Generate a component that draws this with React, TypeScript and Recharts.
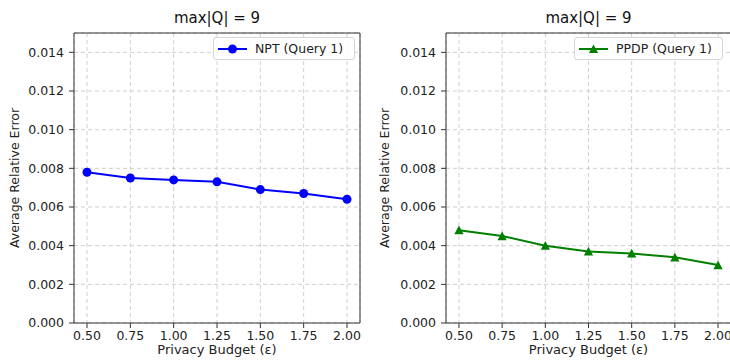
import { LineChart, Line, XAxis, YAxis, CartesianGrid, ReferenceLine } from 'recharts';

const epsilons = [0.5, 0.75, 1.0, 1.25, 1.5, 1.75, 2.0];
const nptErrors = [0.0078, 0.0075, 0.0074, 0.0073, 0.0069, 0.0067, 0.0064];
const ppdpErrors = [0.0048, 0.0045, 0.004, 0.0037, 0.0036, 0.0034, 0.003];
const yTicks = [0, 0.002, 0.004, 0.006, 0.008, 0.01, 0.012, 0.014];
const panelTitle = 'max|Q| = 9';
const xLabel = 'Privacy Budget (ε)';
const yLabel = 'Average Relative Error';

const FONT = '"DejaVu Sans", sans-serif';
const SPINE = '#333';

function Triangle(props: any) {
  const { cx, cy, fill, index } = props;
  if (cx == null || cy == null) return <g key={index} />;
  const h = 4.6;
  return <path key={index} d={`M${cx},${cy - h} L${cx + h},${cy + h * 0.9} L${cx - h},${cy + h * 0.9} Z`} fill={fill} />;
}

interface PanelProps {
  values: number[];
  name: string;
  color: string;
  marker: 'circle' | 'triangle';
  left: number;
  width: number;
  axisWidth: number;
  labelOffset: number;
  legendLeft: number;
  legendWidth: number;
}

function Panel({ values, name, color, marker, left, width, axisWidth, labelOffset, legendLeft, legendWidth }: PanelProps) {
  const data = epsilons.map((e, i) => ({ eps: e, err: values[i] }));
  const rightMargin = marker === 'circle' ? 5 : 0;
  const center = (axisWidth + width - rightMargin) / 2;

  return (
    <div style={{ position: 'absolute', left, top: 0, width, height: 362 }}>
      <LineChart width={width} height={362} data={data} margin={{ top: 33, right: rightMargin, bottom: 0, left: 0 }}>
        <CartesianGrid stroke="#cfcfcf" strokeDasharray="4 3" />
        <XAxis
          dataKey="eps"
          type="number"
          domain={[0.425, 2.075]}
          ticks={epsilons}
          tickFormatter={(v: number) => v.toFixed(2)}
          height={39}
          tickSize={5}
          tickMargin={3}
          axisLine={{ stroke: SPINE }}
          tickLine={{ stroke: SPINE }}
          tick={{ fontSize: 12.5, fill: '#222', fontFamily: FONT }}
          label={{ value: xLabel, position: 'insideBottom', offset: 8, style: { fontSize: 13, fill: '#222', fontFamily: FONT } }}
        />
        <YAxis
          type="number"
          domain={[0, 0.015]}
          ticks={yTicks}
          tickFormatter={(v: number) => v.toFixed(3)}
          width={axisWidth}
          tickSize={5}
          tickMargin={5}
          axisLine={{ stroke: SPINE }}
          tickLine={{ stroke: SPINE }}
          tick={{ fontSize: 12.5, fill: '#222', fontFamily: FONT }}
          label={{ value: yLabel, angle: -90, position: 'insideLeft', offset: labelOffset, style: { fontSize: 12.5, fill: '#222', fontFamily: FONT, textAnchor: 'middle' } }}
        />
        <ReferenceLine y={0.015} stroke={SPINE} />
        <ReferenceLine x={2.075} stroke={SPINE} />
        <Line
          dataKey="err"
          stroke={color}
          strokeWidth={2}
          isAnimationActive={false}
          type="linear"
          dot={marker === 'circle' ? { r: 4.5, fill: color, stroke: color, strokeWidth: 0 } : (p: any) => <Triangle {...p} fill={color} />}
          activeDot={false}
        />
      </LineChart>
      <div style={{ position: 'absolute', top: 9, left: center - 60, width: 120, textAlign: 'center', fontFamily: FONT, fontSize: 15, color: '#111' }}>
        {panelTitle}
      </div>
      <div
        style={{
          position: 'absolute',
          top: 37,
          left: legendLeft,
          width: legendWidth,
          height: 23,
          boxSizing: 'border-box',
          border: '1px solid #d6d6d6',
          borderRadius: 3,
          background: 'rgba(255,255,255,0.85)',
          display: 'flex',
          alignItems: 'center',
          fontFamily: FONT,
          fontSize: 12.5,
          color: '#222',
        }}
      >
        <svg width={38} height={20} style={{ marginLeft: 3 }}>
          <line x1={1} y1={10} x2={30} y2={10} stroke={color} strokeWidth={2} />
          {marker === 'circle' ? (
            <circle cx={15.5} cy={10} r={4.5} fill={color} />
          ) : (
            <path d="M15.5,5.4 L20.1,14.1 L10.9,14.1 Z" fill={color} />
          )}
        </svg>
        <span style={{ whiteSpace: 'nowrap' }}>{name}</span>
      </div>
    </div>
  );
}

export default function App() {
  return (
    <div style={{ position: 'absolute', left: 0, top: 0, width: 730, height: 362, overflow: 'hidden', background: '#fff' }}>
      <Panel values={nptErrors} name="NPT (Query 1)" color="#0000ff" marker="circle" left={0} width={365} axisWidth={74} labelOffset={15} legendLeft={213} legendWidth={142} />
      <Panel values={ppdpErrors} name="PPDP (Query 1)" color="#008000" marker="triangle" left={365} width={366} axisWidth={81} labelOffset={20} legendLeft={209} legendWidth={149} />
    </div>
  );
}
